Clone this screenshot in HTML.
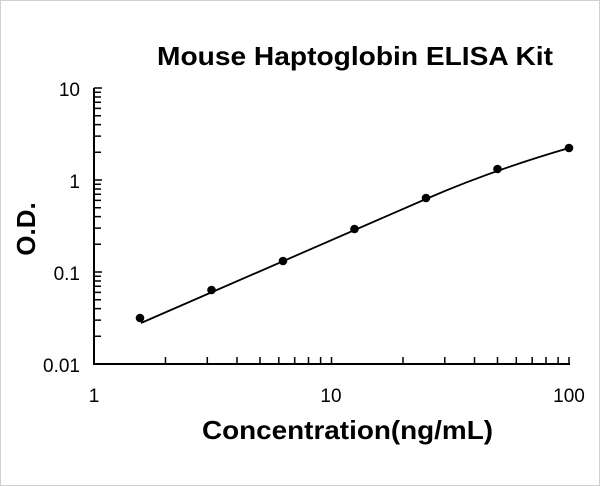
<!DOCTYPE html>
<html><head><meta charset="utf-8"><style>
html,body{margin:0;padding:0;background:#fff}
svg{display:block;font-family:"Liberation Sans",Arial,sans-serif}
</style></head><body>
<svg width="600" height="486" viewBox="0 0 600 486" xmlns="http://www.w3.org/2000/svg">
<rect x="0.5" y="0.5" width="599" height="485" fill="#fff" stroke="#d0d0d0"/>
<text x="157" y="65" font-size="26" font-weight="bold" textLength="396" lengthAdjust="spacingAndGlyphs">Mouse Haptoglobin ELISA Kit</text>
<text x="202" y="439" font-size="26" font-weight="bold" textLength="291" lengthAdjust="spacingAndGlyphs">Concentration(ng/mL)</text>
<text transform="translate(35,229) rotate(-90)" font-size="26" font-weight="bold" text-anchor="middle">O.D.</text>
<g stroke="#000" stroke-width="2" fill="none">
<path d="M94 88 V364 H570"/>
</g>
<g stroke="#000" stroke-width="1.5">
<path d="M94 88h8M94 180h8M94 272h8M94 364h8"/>
<path d="
M94 336.3h7M94 320.1h7M94 308.6h7M94 299.7h7M94 292.4h7M94 286.3h7M94 281.0h7M94 276.2h7
M94 244.3h7M94 228.1h7M94 216.6h7M94 207.7h7M94 200.4h7M94 194.3h7M94 189.0h7M94 184.2h7
M94 152.3h7M94 136.1h7M94 124.6h7M94 115.7h7M94 108.4h7M94 102.3h7M94 97.0h7M94 92.2h7"/>
<path d="
M165.5 364v-7M207.3 364v-7M237 364v-7M260 364v-7M278.8 364v-7M294.7 364v-7M308.5 364v-7M320.6 364v-7M331.5 364v-7
M403 364v-7M444.8 364v-7M474.5 364v-7M497.5 364v-7M516.3 364v-7M532.2 364v-7M546 364v-7M558.1 364v-7M569 364v-7"/>
</g>
<g font-size="19" text-anchor="end">
<text x="80" y="96">10</text>
<text x="80" y="188">1</text>
<text x="80" y="280">0.1</text>
<text x="80" y="372">0.01</text>
</g>
<g font-size="19" text-anchor="middle">
<text x="94" y="402">1</text>
<text x="331" y="402">10</text>
<text x="569" y="402">100</text>
</g>
<path d="M141 323 L426 199 Q490 171 569 148" fill="none" stroke="#000" stroke-width="1.8"/>
<g fill="#000">
<circle cx="140" cy="318" r="4.3"/>
<circle cx="211.5" cy="290" r="4.3"/>
<circle cx="283" cy="261" r="4.3"/>
<circle cx="354.5" cy="229" r="4.3"/>
<circle cx="426" cy="198" r="4.3"/>
<circle cx="497.5" cy="169" r="4.3"/>
<circle cx="569" cy="148" r="4.3"/>
</g>
</svg>
</body></html>
